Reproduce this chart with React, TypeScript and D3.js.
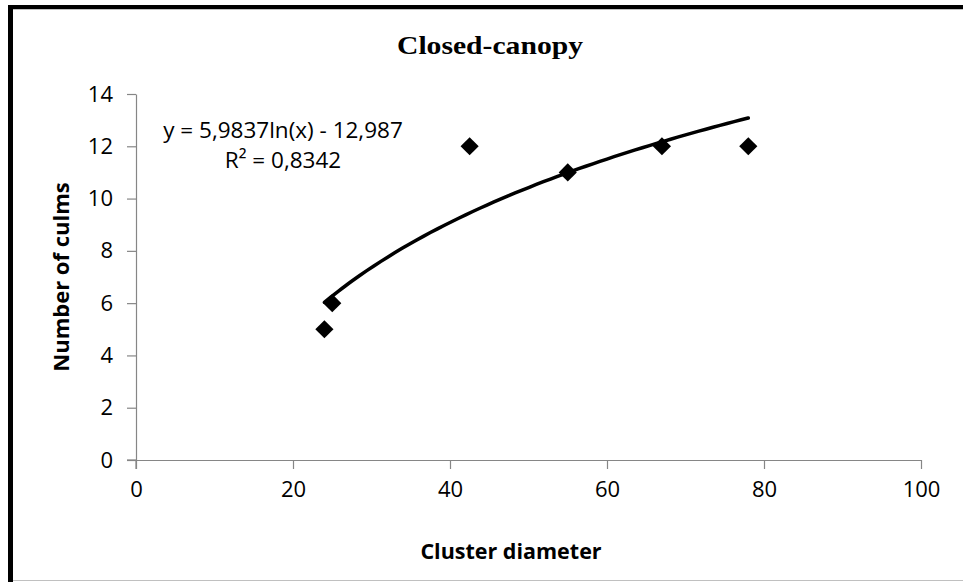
import { useRef, useEffect } from 'react'
import * as d3 from 'd3'

// observed points (cluster diameter, number of culms)
const diameters = [24, 25, 42.5, 55, 67, 78]
const culms = [5, 6, 12, 11, 12, 12]
const xTicks = [0, 20, 40, 60, 80, 100]
const yTicks = [0, 2, 4, 6, 8, 10, 12, 14]
// logarithmic fit given in the chart
const fitA = 5.9837
const fitB = -12.987
const equationLines = ['y = 5,9837ln(x) - 12,987', 'R² = 0,8342']

const W = 963
const H = 582
const labelFont = "'Open Sans', 'Liberation Sans', sans-serif"

const App = () => {
  const svgRef = useRef<SVGSVGElement>(null)

  useEffect(() => {
    const svg = d3.select(svgRef.current)
    svg.selectAll('*').remove()

    const margin = { top: 94, left: 136, right: 42, bottom: 122 }

    // frame (thick black top/left, thin grey lines)
    svg.append('rect').attr('x', 8).attr('y', 5).attr('width', W - 8).attr('height', 4).attr('fill', '#000')
    svg.append('rect').attr('x', 8).attr('y', 5).attr('width', 5).attr('height', H - 5).attr('fill', '#000')
    svg.append('line').attr('x1', 13).attr('x2', W).attr('y1', 9.5).attr('y2', 9.5).attr('stroke', '#c0c0c0')
    svg.append('line').attr('x1', 13).attr('x2', W).attr('y1', 580.5).attr('y2', 580.5).attr('stroke', '#c0c0c0')

    const x = d3.scaleLinear().domain([0, 100]).range([margin.left, W - margin.right])
    const y = d3.scaleLinear().domain([0, 14]).range([H - margin.bottom, margin.top])

    const xAxis = d3.axisBottom(x).tickValues(xTicks).tickSize(9).tickPadding(12).tickSizeOuter(0)
    const yAxis = d3.axisLeft(y).tickValues(yTicks).tickSize(9).tickPadding(14).tickSizeOuter(0)

    const gx = svg.append('g').attr('transform', `translate(0, ${y(0)})`).call(xAxis)
    const gy = svg.append('g').attr('transform', `translate(${x(0)}, 0)`).call(yAxis)

    for (const g of [gx, gy]) {
      g.selectAll('.domain, .tick line').attr('stroke', '#868686').attr('stroke-width', 1.2)
      g.selectAll('.tick text')
        .attr('fill', '#000')
        .style('font-family', labelFont)
        .style('font-size', '22px')
    }
    // extend y axis slightly below x axis like Excel
    svg.append('line')
      .attr('x1', x(0)).attr('x2', x(0))
      .attr('y1', y(0)).attr('y2', y(0) + 9)
      .attr('stroke', '#868686').attr('stroke-width', 1.2)
    svg.append('line')
      .attr('x1', x(0) - 9).attr('x2', x(0))
      .attr('y1', y(0)).attr('y2', y(0))
      .attr('stroke', '#868686').attr('stroke-width', 1.2)

    // title
    svg.append('text')
      .attr('x', 490).attr('y', 54)
      .attr('text-anchor', 'middle')
      .attr('textLength', 186)
      .attr('lengthAdjust', 'spacingAndGlyphs')
      .style('font-family', "'Liberation Serif', serif")
      .style('font-weight', 'bold')
      .style('font-size', '26px')
      .text('Closed-canopy')

    // axis titles
    svg.append('text')
      .attr('x', 511).attr('y', 559)
      .attr('text-anchor', 'middle')
      .style('font-family', labelFont)
      .style('font-weight', 'bold')
      .style('font-size', '21.5px')
      .text('Cluster diameter')

    svg.append('text')
      .attr('transform', `translate(69, 277) rotate(-90)`)
      .attr('text-anchor', 'middle')
      .style('font-family', labelFont)
      .style('font-weight', 'bold')
      .style('font-size', '22px')
      .text('Number of culms')

    // trendline
    const [xmin, xmax] = d3.extent(diameters) as [number, number]
    const fitXs = d3.range(0, 61).map((i) => xmin + ((xmax - xmin) * i) / 60)
    const lineGenerator = d3.line<number>()
      .x((d) => x(d))
      .y((d) => y(fitA * Math.log(d) + fitB))
      .curve(d3.curveBasis)

    svg.append('path')
      .attr('d', lineGenerator(fitXs))
      .attr('fill', 'none')
      .attr('stroke', '#000')
      .attr('stroke-width', 3.5)
      .style('stroke-linecap', 'round')

    // diamonds
    const diamond = d3.symbol().type(d3.symbolSquare).size(165)
    svg.append('g')
      .selectAll('path')
      .data(diameters.map((d, i) => [d, culms[i]]))
      .join('path')
      .attr('d', diamond)
      .attr('transform', (d) => `translate(${x(d[0])}, ${y(d[1])}) rotate(45)`)
      .attr('fill', '#000')

    // equation label
    svg.append('text')
      .attr('text-anchor', 'middle')
      .style('font-family', labelFont)
      .style('font-size', '22.5px')
      .selectAll('tspan')
      .data(equationLines)
      .join('tspan')
      .attr('x', 283)
      .attr('y', (_, i) => 138 + i * 30)
      .text((d) => d)
  }, [])

  return (
    <div>
      <svg
        ref={svgRef}
        width={W}
        height={H}
        style={{ position: 'absolute', left: 0, top: 0, background: '#fff' }}
      ></svg>
    </div>
  )
}

export default App
